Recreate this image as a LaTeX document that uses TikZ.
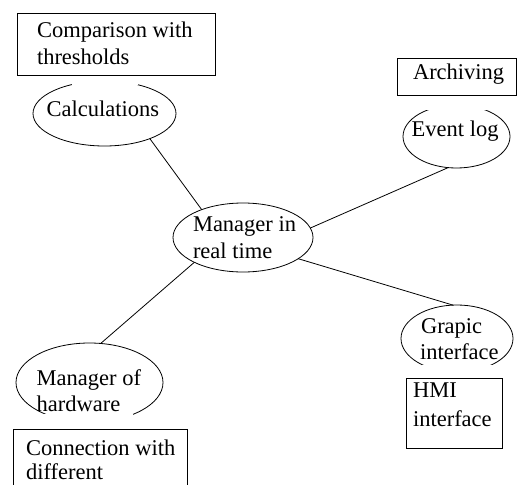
\documentclass[tikz,border=0pt]{standalone}
\usepackage{fontspec}
\setmainfont{Liberation Serif}
\usetikzlibrary{shapes.geometric}
\begin{document}
\begin{tikzpicture}[x=1pt,y=-1pt,
  ell/.style={draw=black, line width=0.8pt, ellipse, inner sep=0pt, outer sep=0pt},
  boxx/.style={draw=black, line width=0.8pt, fill=white},
  txt/.style={inner sep=0pt, outer sep=0pt, anchor=base west, font=\fontsize{22.5}{27}\selectfont, text=black},
  link/.style={draw=black, line width=0.8pt},
  gap/.style={fill=white, draw=none}]
\useasboundingbox (0,0) rectangle (518,484);
\clip (0,0) rectangle (518,484);
% ellipses
\node[ell, minimum width=143pt, minimum height=65pt] (calc) at (104.5,113.5) {};
\node[ell, minimum width=107pt, minimum height=63pt] (ev) at (456.5,136.5) {};
\node[ell, minimum width=140pt, minimum height=69pt] (mgr) at (243,237.5) {};
\node[ell, minimum width=147pt, minimum height=79pt] (hw) at (89.5,382.5) {};
\node[ell, minimum width=112pt, minimum height=67pt] (gr) at (457,338.5) {};
% parts of the ellipses hidden behind their text areas
\path[gap] (72,74) rectangle (138,85);
\path[gap] (423,100) rectangle (487,110);
\path[gap] (43,414) rectangle (133,426);
\path[gap] (422,365) rectangle (497,375);
% boxes
\node[boxx, minimum width=198pt, minimum height=62pt] (cmp) at (116,44) {};
\node[boxx, minimum width=119pt, minimum height=36.5pt] (arch) at (456.5,76.75) {};
\node[boxx, minimum width=174pt, minimum height=71pt] (conn) at (100,464.5) {};
\node[boxx, minimum width=96pt, minimum height=70pt] (hmi) at (454,413) {};
% connectors
\draw[link] (calc.-29) -- (mgr.146);
\draw[link] (mgr.8) -- (ev.-105);
\draw[link] (mgr.-153) -- (hw.74);
\draw[link] (mgr.-21) -- (gr.97);
% texts
\node[txt] (t1) at (37,37.7) {Comparison with};
\node[txt] (t2) at (37,65) {thresholds};
\node[txt] (t3) at (46.7,116.7) {Calculations};
\node[txt] (t4) at (413,80) {Archiving};
\node[txt] (t5) at (411.7,136.7) {Event log};
\node[txt] (t6) at (193,231.7) {Manager in};
\node[txt] (t7) at (193,258.3) {real time};
\node[txt] (t8) at (36.7,385) {Manager of};
\node[txt] (t9) at (36.7,411.7) {hardware};
\node[txt] (t10) at (26,455) {Connection with};
\node[txt] (t11) at (26,479.5) {different};
\node[txt] (t12) at (421,333) {Grapic};
\node[txt] (t13) at (420,359.5) {interface};
\node[txt] (t14) at (413,397) {HMI};
\node[txt] (t15) at (413,426) {interface};
\end{tikzpicture}
\end{document}
